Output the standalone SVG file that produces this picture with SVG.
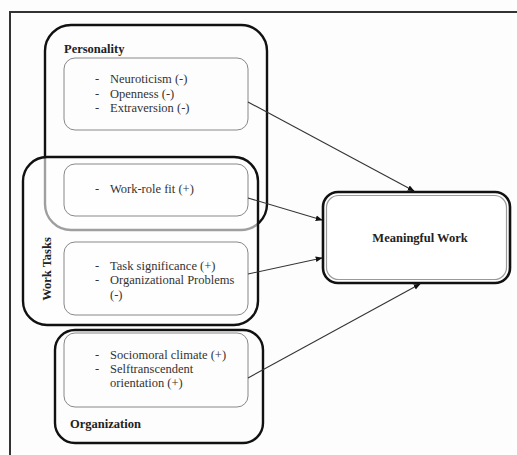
<svg xmlns="http://www.w3.org/2000/svg" width="517" height="455" viewBox="0 0 517 455">
<style>
text{font-family:"Liberation Serif","Times New Roman",serif;font-size:12.5px;fill:#333}
.b{font-weight:bold;fill:#222}
.grp{fill:none;stroke:#111;stroke-width:2.4}
.inner{fill:none;stroke:#888;stroke-width:1}
.conn{stroke:#333;stroke-width:1.1;fill:none;marker-end:url(#ah)}
</style>
<defs>
<marker id="ah" viewBox="0 0 10 10" refX="9" refY="5" markerWidth="7" markerHeight="7" orient="auto" markerUnits="userSpaceOnUse">
<path d="M0,1 L10,5 L0,9 z" fill="#111"/>
</marker>
</defs>
<rect width="517" height="455" fill="#fdfdfd"/>
<path d="M10,455 V12 H517" fill="none" stroke="#333" stroke-width="2"/>

<g id="personality">
<rect class="grp" x="45" y="25" width="222" height="205" rx="26"/>
<text class="b" x="64" y="53">Personality</text>
</g>

<g id="work-tasks">
<rect x="23" y="157" width="235" height="168" rx="24" fill="#fff" fill-opacity="0.6" stroke="#111" stroke-width="2.4"/>
<text class="b" transform="translate(51,269) rotate(-90)" text-anchor="middle">Work Tasks</text>
</g>

<g id="personality-traits">
<rect class="inner" x="64" y="58" width="184" height="72" rx="11"/>
<text x="95" y="83">-</text><text x="110" y="83">Neuroticism (-)</text>
<text x="95" y="98">-</text><text x="110" y="98">Openness (-)</text>
<text x="95" y="112">-</text><text x="110" y="112">Extraversion (-)</text>
</g>

<g id="work-role-fit">
<rect class="inner" x="64" y="164" width="184" height="52" rx="11"/>
<text x="95" y="193">-</text><text x="110" y="193">Work-role fit (+)</text>
</g>

<g id="task-items">
<rect class="inner" x="64" y="242" width="184" height="73" rx="11"/>
<text x="95" y="270">-</text><text x="110" y="270">Task significance (+)</text>
<text x="95" y="284">-</text><text x="110" y="284">Organizational Problems</text>
<text x="110" y="299">(-)</text>
</g>

<g id="organization">
<rect class="grp" x="55" y="330" width="208" height="113" rx="20"/>
<text class="b" x="70" y="428">Organization</text>
</g>

<g id="org-items">
<rect class="inner" x="64" y="333" width="184" height="74" rx="11"/>
<text x="95" y="359">-</text><text x="110" y="359">Sociomoral climate (+)</text>
<text x="95" y="373">-</text><text x="110" y="373">Selftranscendent</text>
<text x="110" y="387">orientation (+)</text>
</g>

<g id="meaningful-work">
<rect x="323" y="192" width="187" height="91" rx="15" fill="#fff" stroke="#111" stroke-width="2.6"/>
<rect x="326.5" y="195.5" width="180" height="84" rx="12" fill="none" stroke="#999" stroke-width="1.2"/>
<text class="b" x="420" y="242" text-anchor="middle">Meaningful Work</text>
</g>

<g id="connectors">
<line class="conn" x1="248" y1="102" x2="414" y2="191"/>
<line class="conn" x1="248" y1="198" x2="322" y2="220"/>
<line class="conn" x1="248" y1="274" x2="322" y2="258"/>
<line class="conn" x1="248" y1="378" x2="420" y2="284"/>
</g>
</svg>
